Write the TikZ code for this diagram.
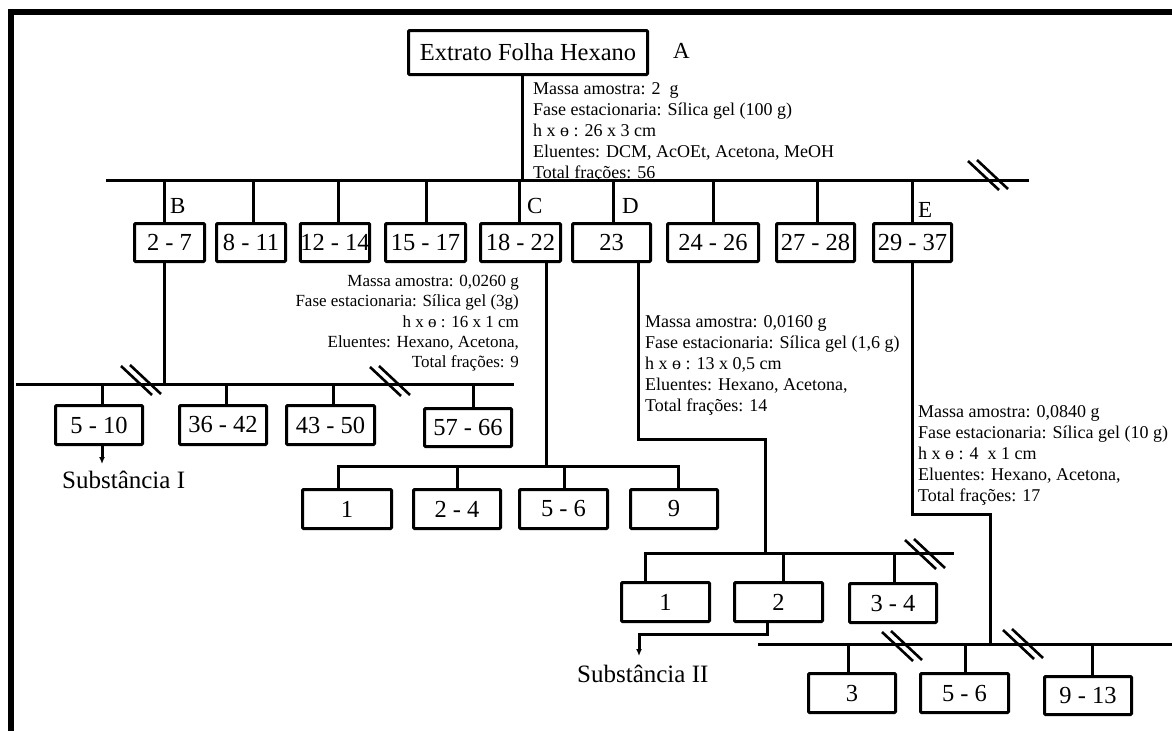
\documentclass[tikz,border=0pt]{standalone}
\usepackage{fontspec}
\setmainfont{Liberation Serif}
\usetikzlibrary{arrows.meta}
\begin{document}
\begin{tikzpicture}[x=1pt,y=-1pt,
  conn/.style={line width=3pt, line cap=rect},
  arr/.style={conn, -{Latex[length=7pt,width=6pt]}},
  boxnode/.style={draw, line width=3pt, rounded corners=1pt, inner sep=0pt, font=\fontsize{24.5}{28}\selectfont},
  lab/.style={font=\fontsize{23}{27}\selectfont, inner sep=0pt, anchor=base west},
  sublab/.style={font=\fontsize{25}{30}\selectfont, inner sep=0pt, anchor=base west},
  info/.style={font=\fontsize{18}{21}\selectfont, inner sep=0pt, align=left, anchor=north west},
  dslash/.pic={\draw[line width=2.6pt] (-20,-15) -- (11,14); \draw[line width=2.6pt] (-11,-16) -- (20,13);}]
\useasboundingbox (0,0) rectangle (1172,731);
% frame
\draw[line width=5.5pt] (11,731) -- (11,12) -- (1172,12);

% top
\node[boxnode, minimum width=239pt, minimum height=44pt] (main) at (528,52.5) {Extrato Folha Hexano};
\node[lab] (labA) at (673,58) {A};
\node[info] (infoA) at (533,82) {Massa amostra: 2\ \ g\\Fase estacionaria: Sílica gel (100 g)\\h x ɵ : 26 x 3 cm\\Eluentes: DCM, AcOEt, Acetona, MeOH\\Total frações: 56};
\coordinate (mL) at (107,180);
\coordinate (mR) at (1027,180);
\draw[conn] (mL) -- (mR);
\coordinate (aJ) at (522,180);
\draw[conn] (aJ |- main.south) -- (aJ);
\pic at (988,176) {dslash};

% row 1
\foreach \nm/\cx/\w/\dx/\tx in {b27/169.5/70/164/{2 - 7}, b811/251/69/253/{8 - 11}, b1214/335/69/338/{12 - 14}, b1517/425.5/80/426/{15 - 17}, b1822/520.5/80/519/{18 - 22}, b23/611.5/78/613/{23}, b2426/713/91/713/{24 - 26}, b2728/815.5/78/817/{27 - 28}, b2937/912.5/78/912/{29 - 37}} {
  \node[boxnode, minimum width=\w pt, minimum height=38pt] (\nm) at (\cx,242.5) {\tx};
  \coordinate (d\nm) at (\dx,180);
  \draw[conn] (d\nm) -- (d\nm |- \nm.north);
}
\node[lab] (labB) at (170,213) {B};
\node[lab] (labC) at (527,213) {C};
\node[lab] (labD) at (622,213) {D};
\node[lab] (labE) at (918,217) {E};

% B branch
\coordinate (bJ) at (164,384);
\draw[conn] (bJ |- b27.south) -- (bJ);
\coordinate (bL) at (17,384);
\coordinate (bR) at (512,384);
\draw[conn] (bL) -- (bR);
\foreach \nm/\cx/\cy/\w/\h/\dx/\tx in {c510/99/425/87/39/102/{5 - 10}, c3642/223/425/87/39/226/{36 - 42}, c4350/330.5/425/88/39/333/{43 - 50}, c5766/468/427.5/87/38/473/{57 - 66}} {
  \node[boxnode, minimum width=\w pt, minimum height=\h pt] (\nm) at (\cx,\cy) {\tx};
  \coordinate (d\nm) at (\dx,384);
  \draw[conn] (d\nm) -- (d\nm |- \nm.north);
}
\pic at (141,381) {dslash};
\pic at (390,382) {dslash};
\coordinate (s1) at (102,464);
\draw[arr] (s1 |- c510.south) -- (s1);
\node[sublab] (subI) at (62,488) {Substância I};

% C branch
\node[font=\fontsize{17}{20.3}\selectfont, inner sep=0pt, align=right, anchor=north east] (infoC) at (519,275) {Massa amostra: 0,0260 g\\Fase estacionaria: Sílica gel (3g)\hspace*{7pt}\\h x ɵ : 16 x 1 cm\\Eluentes: Hexano, Acetona,\hspace*{8pt}\\Total frações: 9};
\coordinate (cJ) at (546,466);
\draw[conn] (cJ |- b1822.south) -- (cJ);
\coordinate (cL) at (338,466);
\coordinate (cR) at (678,466);
\draw[conn] (cL) -- (cR);
\foreach \nm/\cx/\w/\dx/\tx in {e1/347/89/338/{1}, e24/457/87/457/{2 - 4}, e56/563.5/88/564/{5 - 6}, e9/674/87/678/{9}} {
  \node[boxnode, minimum width=\w pt, minimum height=39pt] (\nm) at (\cx,509) {\tx};
  \coordinate (d\nm) at (\dx,466);
  \draw[conn] (d\nm) -- (d\nm |- \nm.north);
}

% D branch
\node[info] (infoD) at (645,315.5) {Massa amostra: 0,0160 g\\Fase estacionaria: Sílica gel (1,6 g)\\h x ɵ : 13 x 0,5 cm\\Eluentes: Hexano, Acetona,\\Total frações: 14};
\coordinate (dA) at (638,439);
\coordinate (dB) at (765,439);
\coordinate (dC) at (765,553);
\draw[conn] (dA |- b23.south) -- (dA) -- (dB) -- (dC);
\coordinate (dL) at (645,553);
\coordinate (dR) at (952,553);
\draw[conn] (dL) -- (dR);
\foreach \nm/\cx/\cy/\w/\dx/\tx in {f1/665.5/602/88/645/{1}, f2/778.5/602/88/783/{2}, f34/893/603/87/894/{3 - 4}} {
  \node[boxnode, minimum width=\w pt, minimum height=39pt] (\nm) at (\cx,\cy) {\tx};
  \coordinate (d\nm) at (\dx,553);
  \draw[conn] (d\nm) -- (d\nm |- \nm.north);
}
\pic at (925,555) {dslash};
\coordinate (sA) at (767,634);
\coordinate (sB) at (639,634);
\coordinate (sC) at (639,656);
\draw[arr] (sA |- f2.south) -- (sA) -- (sB) -- (sC);
\node[sublab] (subII) at (577,682) {Substância II};

% E branch
\node[info] (infoE) at (918,405.5) {Massa amostra: 0,0840 g\\Fase estacionaria: Sílica gel (10 g)\\h x ɵ : 4\ \ x 1 cm\\Eluentes: Hexano, Acetona,\\Total frações: 17};
\coordinate (eA) at (912,514);
\coordinate (eB) at (990,514);
\coordinate (eC) at (990,644);
\draw[conn] (eA |- b2937.south) -- (eA) -- (eB) -- (eC);
\coordinate (eL) at (759,644);
\coordinate (eR) at (1172,644);
\draw[conn] (eL) -- (eR);
\foreach \nm/\cx/\cy/\w/\h/\dx/\tx in {g3/852/693/87/39/848/{3}, g56/964.5/693/88/39/965/{5 - 6}, g913/1088/695.5/87/38/1092/{9 - 13}} {
  \node[boxnode, minimum width=\w pt, minimum height=\h pt] (\nm) at (\cx,\cy) {\tx};
  \coordinate (d\nm) at (\dx,644);
  \draw[conn] (d\nm) -- (d\nm |- \nm.north);
}
\pic at (902,647) {dslash};
\pic at (1023,645) {dslash};
\end{tikzpicture}
\end{document}
